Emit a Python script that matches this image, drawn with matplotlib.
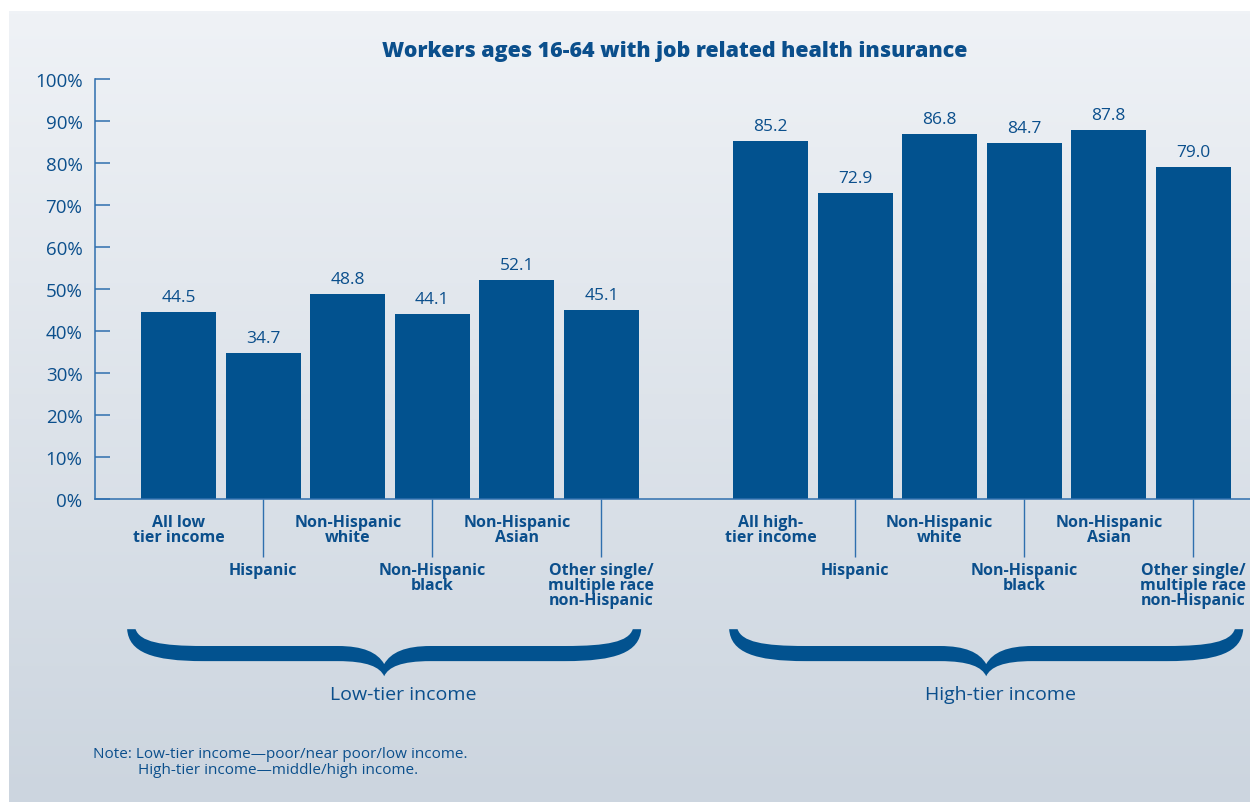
"""Bar chart: workers ages 16-64 with job related health insurance, by income tier."""

import matplotlib.pyplot as plt
import numpy as np
from matplotlib.path import Path
from matplotlib.patches import PathPatch

plt.rcParams["font.family"] = ["Open Sans", "DejaVu Sans"]

BLUE = "#02528f"
TEXT = "#0b4f8c"
AXIS = "#2f6fae"

categories = [
    "All low\ntier income",
    "Hispanic",
    "Non-Hispanic\nwhite",
    "Non-Hispanic\nblack",
    "Non-Hispanic\nAsian",
    "Other single/\nmultiple race\nnon-Hispanic",
]
high_categories = ["All high-\ntier income"] + categories[1:]
low_tier = [44.5, 34.7, 48.8, 44.1, 52.1, 45.1]
high_tier = [85.2, 72.9, 86.8, 84.7, 87.8, 79.0]
groups = ["Low-tier income", "High-tier income"]
y_ticks = [0, 10, 20, 30, 40, 50, 60, 70, 80, 90, 100]


def draw_brace(ax, x0, x1):
    """Filled curly brace pointing down, spanning x0..x1 below the axis."""
    xc = (x0 + x1) / 2
    top, band_top, band_bot, cusp, tip = -31.0, -35.0, -38.6, -39.3, -42.2
    verts = [
        (x0, top),
        (x0 + 0.02, -36.5), (x0 + 0.3, band_bot), (x0 + 0.9, band_bot),
        (xc - 0.55, band_bot),
        (xc - 0.2, band_bot), (xc - 0.05, -40.0), (xc, tip),
        (xc + 0.05, -40.0), (xc + 0.2, band_bot), (xc + 0.55, band_bot),
        (x1 - 0.9, band_bot),
        (x1 - 0.3, band_bot), (x1 - 0.02, -36.5), (x1, top),
        (x1 - 0.1, top),
        (x1 - 0.15, -34.0), (x1 - 0.4, band_top), (x1 - 0.9, band_top),
        (xc + 0.55, band_top),
        (xc + 0.25, band_top), (xc + 0.08, -36.5), (xc, cusp),
        (xc - 0.08, -36.5), (xc - 0.25, band_top), (xc - 0.55, band_top),
        (x0 + 0.9, band_top),
        (x0 + 0.4, band_top), (x0 + 0.15, -34.0), (x0 + 0.1, top),
        (x0, top),
    ]
    codes = (
        [Path.MOVETO]
        + [Path.CURVE4] * 3
        + [Path.LINETO]
        + [Path.CURVE4] * 6
        + [Path.LINETO]
        + [Path.CURVE4] * 3
        + [Path.LINETO]
        + [Path.CURVE4] * 3
        + [Path.LINETO]
        + [Path.CURVE4] * 6
        + [Path.LINETO]
        + [Path.CURVE4] * 3
        + [Path.CLOSEPOLY]
    )
    patch = PathPatch(Path(verts, codes), facecolor=BLUE, edgecolor="none",
                      clip_on=False)
    ax.add_patch(patch)


fig = plt.figure(figsize=(12.5, 8.03), dpi=100, facecolor="white")

# soft vertical gradient panel behind everything
bg = fig.add_axes([9 / 1250, 0, 1 - 9 / 1250, 1 - 12 / 803], zorder=-1)
top_rgb = np.array([239, 242, 246]) / 255
bot_rgb = np.array([204, 213, 223]) / 255
t = np.linspace(0, 1, 256)[:, None]
grad = (top_rgb[None, :] * (1 - t) + bot_rgb[None, :] * t)[:, None, :]
bg.imshow(grad, aspect="auto", extent=(0, 1, 0, 1))
bg.axis("off")

ax = fig.add_axes([95 / 1250, (803 - 500) / 803, 1 - 95 / 1250, 420 / 803])
ax.set_facecolor("none")

x_low = np.arange(len(low_tier))
x_high = np.arange(len(high_tier)) + len(low_tier) + 1
width = 0.887

for xs, vals, labels in ((x_low, low_tier, categories),
                         (x_high, high_tier, high_categories)):
    bars = ax.bar(xs, vals, width=width, color=BLUE, zorder=2)
    for bar, v in zip(bars, vals):
        ax.annotate(f"{v:.1f}", (bar.get_x() + bar.get_width() / 2, v),
                    xytext=(0, 5), textcoords="offset points",
                    ha="center", va="bottom", fontsize=12.5, color=TEXT)
    for i, (x, lab) in enumerate(zip(xs, labels)):
        if i % 2 == 0:
            ax.text(x, -3.6, lab, ha="center", va="top", fontsize=11.5,
                    fontweight="bold", color=TEXT, linespacing=0.9,
                    clip_on=False)
        else:
            ax.vlines(x, -13.8, 0, color=AXIS, lw=1.0, clip_on=False)
            ax.text(x, -15.0, lab, ha="center", va="top", fontsize=11.5,
                    fontweight="bold", color=TEXT, linespacing=0.9,
                    clip_on=False)

# brace and caption under each income group
for xs, name, shift, label_shift in ((x_low, groups[0], -0.07, 0.15),
                                     (x_high, groups[1], 0.05, 0.22)):
    center = xs.mean() + shift
    draw_brace(ax, center - 3.04, center + 3.04)
    ax.text(xs.mean() + label_shift, -46.4, name, ha="center", va="center",
            fontsize=14, color=TEXT, clip_on=False)

ax.set_ylim(0, 100)
ax.set_xlim(-0.99, 12.67)
ax.set_yticks(y_ticks)
ax.set_yticklabels([f"{v}%" for v in y_ticks])
ax.set_xticks([])
ax.tick_params(axis="y", direction="in", length=11, width=1.1, color=AXIS,
               labelsize=13.5, labelcolor=TEXT, pad=9)
for side in ("top", "right"):
    ax.spines[side].set_visible(False)
for side in ("left", "bottom"):
    ax.spines[side].set_color(AXIS)
    ax.spines[side].set_linewidth(1.1)

fig.text(675 / 1250, 1 - 51 / 803,
         "Workers ages 16-64 with job related health insurance",
         ha="center", va="center", fontsize=15.4, fontweight="heavy",
         color=TEXT)
fig.text(93 / 1250, 1 - 755 / 803,
         "Note: Low-tier income\u2014poor/near poor/low income.",
         ha="left", va="center", fontsize=11, color=TEXT)
fig.text(138 / 1250, 1 - 771 / 803,
         "High-tier income\u2014middle/high income.",
         ha="left", va="center", fontsize=11, color=TEXT)

fig.savefig("out.png", dpi=100, facecolor="white")
